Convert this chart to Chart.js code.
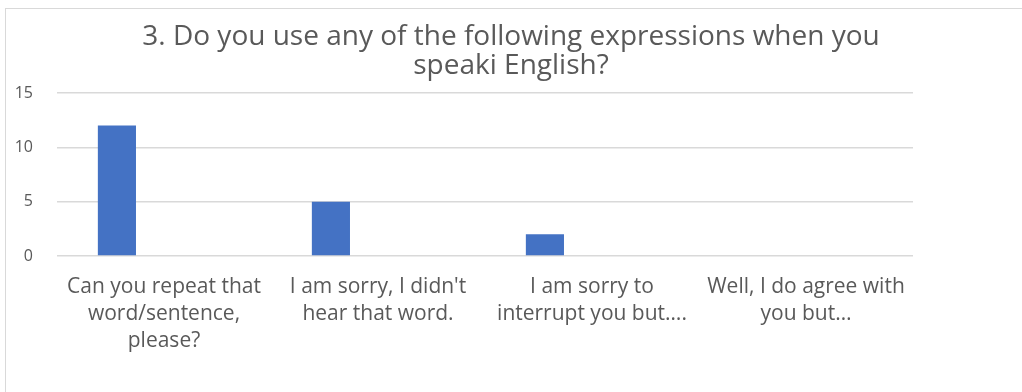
<!DOCTYPE html>
<html>
<head>
<meta charset="utf-8">
<script src="https://cdn.jsdelivr.net/npm/chart.js@4"></script>
<style>
  html, body { margin: 0; padding: 0; background: #fff; overflow: hidden; }
  #frame { position: absolute; left: 5px; top: 8px; width: 1200px; height: 600px; border: 1px solid #d9d9d9; }
  #wrap { position: absolute; left: 0; top: 0; width: 1022px; height: 392px; }
</style>
</head>
<body>
<div id="frame"></div>
<div id="wrap"><canvas id="chart"></canvas></div>
<script>
const TITLE = ['3. Do you use any of the following expressions when you', 'speaki English?'];

const categories = [
  ['Can you repeat that', 'word/sentence,', 'please?'],
  ["I am sorry, I didn't", 'hear that word.'],
  ['I am sorry to', 'interrupt you but….'],
  ['Well, I do agree with', 'you but…']
];

// answers per expression; the other two series in the sheet are empty
const series1 = [12, 5, 2, 0];
const series2 = [null, null, null, null];
const series3 = [null, null, null, null];

const yTicks = [0, 5, 10, 15];

const FONT = 'Open Sans';
const GREY = '#595959';

function displayChart() {
  const ctx = document.getElementById('chart');

  new Chart(ctx, {
    type: 'bar',
    data: {
      labels: categories,
      datasets: [
        { label: 'Series1', data: series1, backgroundColor: '#4472c4' },
        { label: 'Series2', data: series2, backgroundColor: '#ed7d31' },
        { label: 'Series3', data: series3, backgroundColor: '#a5a5a5' }
      ]
    },
    options: {
      responsive: true,
      maintainAspectRatio: false,
      animation: false,
      categoryPercentage: 0.66,
      barPercentage: 0.81,
      // equal side padding keeps the title centred on the canvas
      layout: { padding: { left: 14, right: 14, top: 0, bottom: 19 } },
      plugins: {
        legend: { display: false },
        tooltip: { enabled: false },
        title: {
          display: true,
          text: TITLE,
          color: GREY,
          font: { family: FONT, size: 28, weight: 'normal', lineHeight: 29 / 28 },
          padding: { top: 23, bottom: 12 }
        }
      },
      scales: {
        x: {
          grid: { display: false, drawTicks: false },
          border: { display: false },
          // labels fit inside their own category, no extra side padding
          afterFit: (axis) => { axis.paddingLeft = 0; axis.paddingRight = 0; },
          ticks: {
            color: GREY,
            padding: 18,
            maxRotation: 0,
            autoSkip: false,
            font: { family: FONT, size: 21, lineHeight: 27 / 21 }
          }
        },
        y: {
          min: yTicks[0],
          max: yTicks[yTicks.length - 1],
          afterBuildTicks: (axis) => { axis.ticks = yTicks.map(v => ({ value: v })); },
          afterFit: (axis) => { axis.width = 43; },
          grid: { color: '#d9d9d9', lineWidth: 1.5, drawTicks: false },
          border: { display: false },
          ticks: {
            color: GREY,
            padding: 24,
            font: { family: FONT, size: 16 }
          }
        },
        // blank strip on the right, leaves empty room beside the plot
        gutter: {
          position: 'right',
          afterFit: (axis) => { axis.width = 95; },
          grid: { display: false, drawTicks: false },
          border: { display: false },
          ticks: { display: false }
        }
      }
    }
  });
}

displayChart();
</script>
</body>
</html>
